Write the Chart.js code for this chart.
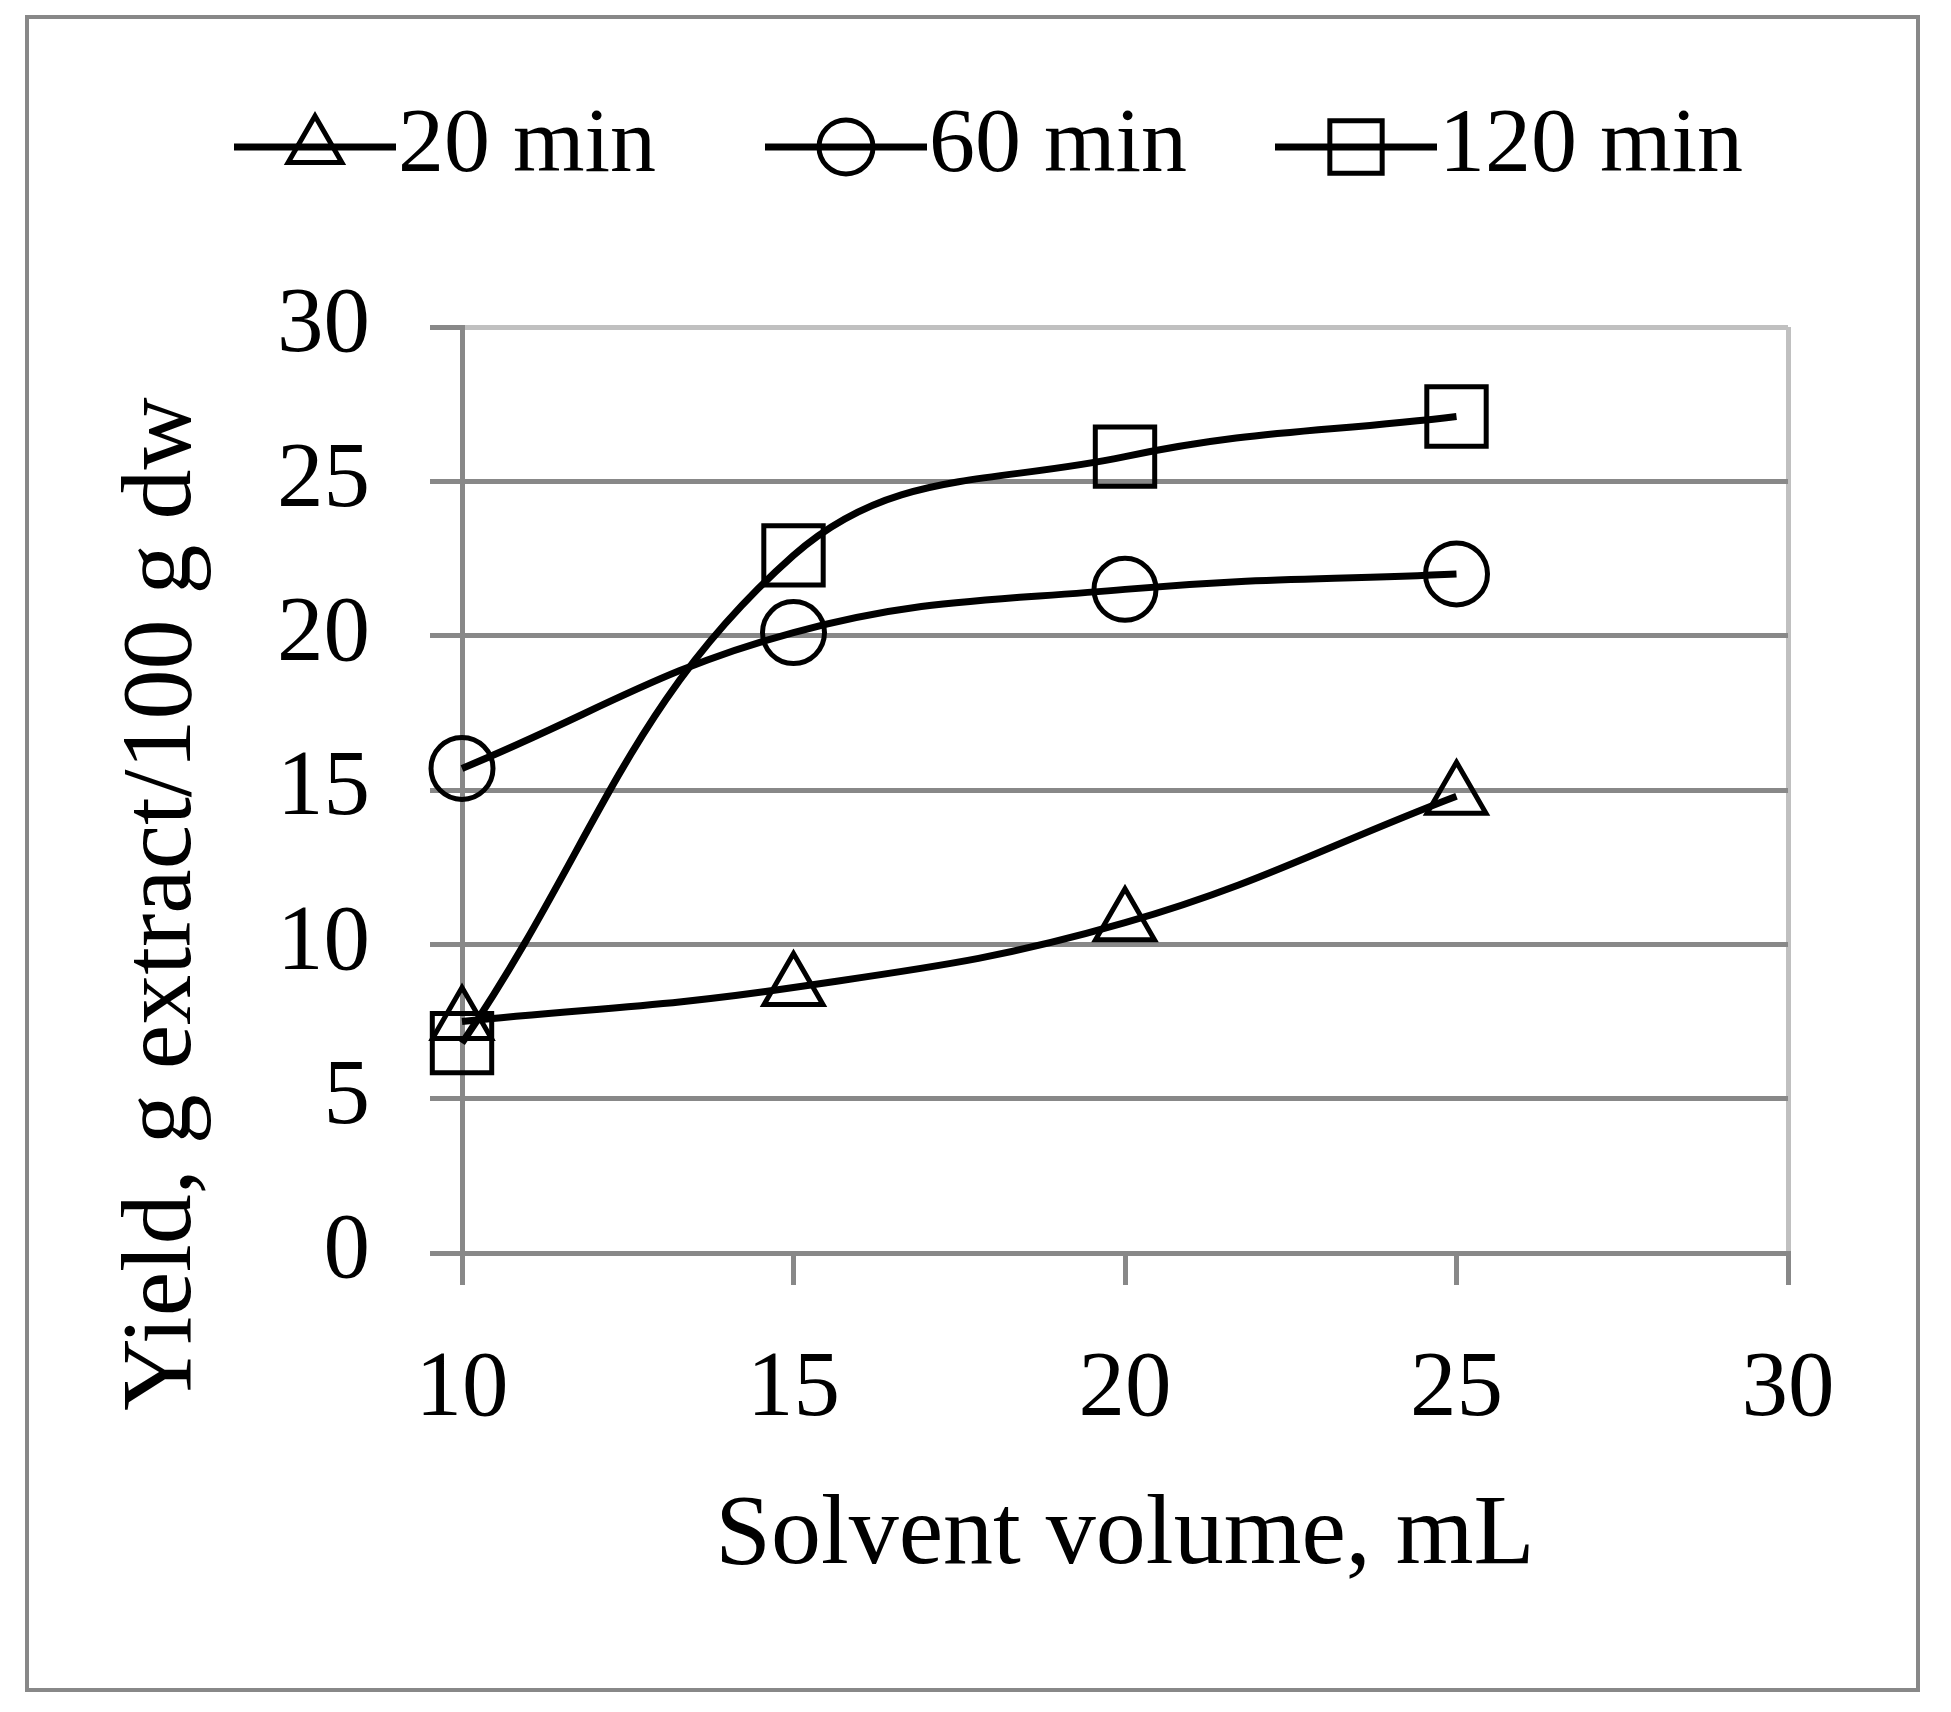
<!DOCTYPE html>
<html>
<head>
<meta charset="utf-8">
<script src="https://cdn.jsdelivr.net/npm/chart.js@4/dist/chart.umd.min.js"></script>
<style>
  html, body { margin: 0; padding: 0; background: #fff; }
  #wrap { width: 1951px; height: 1712px; position: relative; }
</style>
</head>
<body>
<div id="wrap"><canvas id="chartYield"></canvas></div>
<script>
(function () {
  const volumes = [10, 15, 20, 25];
  const yield20 = [7.5, 8.6, 10.7, 14.8];
  const yield60 = [15.7, 20.1, 21.5, 22.0];
  const yield120 = [6.8, 22.6, 25.8, 27.1];
  const seriesNames = ['20 min', '60 min', '120 min'];
  const xTitle = 'Solvent volume, mL';
  const yTitle = 'Yield, g extract/100 g dw';

  const FONT = '"Liberation Serif", "Times New Roman", serif';
  const axisGray = '#888888';
  const lightGray = '#c0c0c0';

  const styles = [
    { pointStyle: 'triangle', radius: 34, legendRadius: 31 },
    { pointStyle: 'circle', radius: 31, legendRadius: 27 },
    { pointStyle: 'rect', radius: 42, legendRadius: 37 },
  ];

  function points(values) {
    return volumes.map(function (v, i) { return { x: v, y: values[i] }; });
  }

  function dataset(label, values, st) {
    return {
      label: label,
      data: points(values),
      borderColor: '#000',
      backgroundColor: 'rgba(0,0,0,0)',
      borderWidth: 7,
      tension: 0.4,
      pointStyle: st.pointStyle,
      pointRadius: st.radius,
      pointBorderWidth: 5,
      pointBorderColor: '#000',
      pointBackgroundColor: 'rgba(0,0,0,0)',
      clip: false,
    };
  }

  // frame, legend and axis titles
  const decor = {
    id: 'decor',
    afterDraw: function (chart) {
      const ctx = chart.ctx;
      ctx.save();
      ctx.strokeStyle = axisGray;
      ctx.lineWidth = 4;
      ctx.strokeRect(27, 17, 1891, 1673);

      const legendY = 147;
      const items = [
        { x0: 234, text: seriesNames[0] },
        { x0: 765, text: seriesNames[1] },
        { x0: 1275, text: seriesNames[2] },
      ];
      items.forEach(function (it, i) {
        ctx.strokeStyle = '#000';
        ctx.lineWidth = 7;
        ctx.beginPath();
        ctx.moveTo(it.x0, legendY);
        ctx.lineTo(it.x0 + 162, legendY);
        ctx.stroke();
        ctx.fillStyle = 'rgba(0,0,0,0)';
        ctx.lineWidth = 5;
        Chart.helpers.drawPoint(ctx, { pointStyle: styles[i].pointStyle, radius: styles[i].legendRadius, rotation: 0, borderWidth: 5 }, it.x0 + 81, legendY);
        ctx.fillStyle = '#000';
        ctx.font = '92px ' + FONT;
        ctx.textAlign = 'left';
        ctx.textBaseline = 'middle';
        ctx.fillText(it.text, it.x0 + 164, legendY);
      });

      ctx.fillStyle = '#000';
      ctx.font = '100px ' + FONT;
      ctx.textAlign = 'center';
      ctx.textBaseline = 'middle';
      ctx.fillText(xTitle, 1125, 1537);

      ctx.translate(164, 904);
      ctx.rotate(-Math.PI / 2);
      ctx.fillText(yTitle, 0, 0);
      ctx.restore();
    },
  };

  new Chart(document.getElementById('chartYield'), {
    type: 'line',
    data: {
      datasets: [
        dataset(seriesNames[0], yield20, styles[0]),
        dataset(seriesNames[1], yield60, styles[1]),
        dataset(seriesNames[2], yield120, styles[2]),
      ],
    },
    options: {
      responsive: true,
      maintainAspectRatio: false,
      animation: false,
      devicePixelRatio: 1,
      layout: { padding: { left: 0, top: 327, right: 163, bottom: 0 } },
      plugins: { legend: { display: false }, tooltip: { enabled: false } },
      scales: {
        x: {
          type: 'linear',
          min: 10,
          max: 30,
          afterFit: function (scale) { scale.height = 1712 - 1253; },
          ticks: { stepSize: 5, color: '#000', font: { family: FONT, size: 93 }, padding: 50, maxRotation: 0 },
          grid: {
            lineWidth: 5,
            tickLength: 32,
            tickColor: axisGray,
            color: function (c) { return c.tick && c.tick.value === 30 ? lightGray : 'rgba(0,0,0,0)'; },
          },
          border: { display: true, color: axisGray, width: 5 },
        },
        y: {
          min: 0,
          max: 30,
          afterFit: function (scale) { scale.width = 462; },
          ticks: { stepSize: 5, color: '#000', font: { family: FONT, size: 93 }, padding: 60 },
          grid: {
            lineWidth: 5,
            tickLength: 32,
            tickColor: axisGray,
            color: function (c) { return c.tick && c.tick.value === 30 ? lightGray : axisGray; },
          },
          border: { display: true, color: axisGray, width: 5 },
        },
      },
    },
    plugins: [decor],
  });
})();
</script>
</body>
</html>
